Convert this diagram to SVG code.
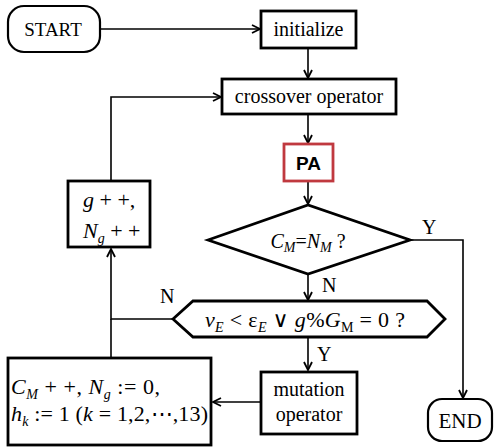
<svg xmlns="http://www.w3.org/2000/svg" width="495" height="448" viewBox="0 0 495 448">
<defs>
<marker id="arr" viewBox="0 0 10 10" refX="9" refY="5" markerWidth="10" markerHeight="10" markerUnits="userSpaceOnUse" orient="auto">
<path d="M1,1 L9,5 L1,9" fill="none" stroke="#000" stroke-width="1.8"/>
</marker>
<style>
.box{fill:#fff;stroke:#000;stroke-width:2.8}
.rnd{fill:#fff;stroke:#000;stroke-width:2.2}
.t{font-family:'Liberation Serif','DejaVu Serif','Times New Roman',serif;font-size:20px;fill:#000}
.m{font-size:22px}
.i{font-style:italic}
.s{font-size:14px}
.c{fill:none;stroke:#000;stroke-width:1.6}
</style>
</defs>
<rect width="495" height="448" fill="#fff"/>
<g id="connectors">
<path class="c" d="M100,29 H260" marker-end="url(#arr)"/>
<path class="c" d="M308,48 V78" marker-end="url(#arr)"/>
<path class="c" d="M308,114 V143" marker-end="url(#arr)"/>
<path class="c" d="M308,181 V204" marker-end="url(#arr)"/>
<path class="c" d="M410,240 H463 V398" marker-end="url(#arr)"/>
<path class="c" d="M308,274 V300" marker-end="url(#arr)"/>
<path class="c" d="M173,319 H111 V249" marker-end="url(#arr)"/>
<path class="c" d="M111,358 V319"/>
<path class="c" d="M111,181 V97 H221" marker-end="url(#arr)"/>
<path class="c" d="M308,337 V370" marker-end="url(#arr)"/>
<path class="c" d="M260,402 H213" marker-end="url(#arr)"/>
<text class="t" x="422" y="234">Y</text>
<text class="t" x="322" y="292">N</text>
<text class="t" x="160" y="303">N</text>
<text class="t" x="317" y="361">Y</text>
</g>
<g id="start">
<rect class="rnd" x="8" y="6" width="92" height="46" rx="16" ry="16"/>
<text class="t" x="53" y="36" text-anchor="middle" style="font-size:19px">START</text>
</g>
<g id="initialize">
<rect class="box" x="261" y="11" width="95" height="37"/>
<text class="t" x="308.5" y="36" text-anchor="middle">initialize</text>
</g>
<g id="crossover">
<rect class="box" x="222" y="79" width="174" height="35"/>
<text class="t" x="309" y="103" text-anchor="middle">crossover operator</text>
</g>
<g id="pa">
<rect x="284" y="144" width="49" height="37" fill="#fff" stroke="#c0393f" stroke-width="2.8"/>
<text x="308.5" y="170" text-anchor="middle" font-family="Liberation Sans, Arial, sans-serif" font-weight="bold" font-size="19">PA</text>
</g>
<g id="check-cm">
<polygon class="box" points="208,240 308,205 410,240 308,274"/>
<text class="t" x="308" y="248" text-anchor="middle"><tspan class="i">C</tspan><tspan class="i s" dy="4">M</tspan><tspan dy="-4">=</tspan><tspan class="i">N</tspan><tspan class="i s" dy="4">M</tspan><tspan dy="-4"> ?</tspan></text>
</g>
<g id="check-v">
<polygon class="box" points="173,319 193,301 427,301 445,319 427,337 193,337"/>
<text class="t m" x="205" y="327" textLength="200" lengthAdjust="spacing"><tspan class="i">v</tspan><tspan class="i s" dy="5">E</tspan><tspan dy="-5"> &lt; ε</tspan><tspan class="i s" dy="5">E</tspan><tspan dy="-5"> ∨ </tspan><tspan class="i">g</tspan><tspan>%</tspan><tspan class="i">G</tspan><tspan class="s" dy="5">M</tspan><tspan dy="-5"> = 0 ?</tspan></text>
</g>
<g id="increment">
<rect class="box" x="68" y="181" width="82" height="66"/>
<text class="t m" x="83" y="207"><tspan class="i">g</tspan> + +,</text>
<text class="t m" x="83" y="238"><tspan class="i">N</tspan><tspan class="i s" dy="5">g</tspan><tspan dy="-5"> + +</tspan></text>
</g>
<g id="reset">
<rect class="box" x="8" y="358" width="203" height="87"/>
<text class="t m" x="11" y="394" textLength="149" lengthAdjust="spacing"><tspan class="i">C</tspan><tspan class="i s" dy="5">M</tspan><tspan dy="-5"> + +, </tspan><tspan class="i">N</tspan><tspan class="i s" dy="5">g</tspan><tspan dy="-5"> := 0,</tspan></text>
<text class="t m" x="11" y="421" textLength="197" lengthAdjust="spacing"><tspan class="i">h</tspan><tspan class="i s" dy="5">k</tspan><tspan dy="-5"> := 1 (</tspan><tspan class="i">k</tspan><tspan> = 1,2,⋯,13)</tspan></text>
</g>
<g id="mutation">
<rect class="box" x="261" y="372" width="96" height="62"/>
<text class="t" x="309" y="396" text-anchor="middle">mutation</text>
<text class="t" x="309" y="421" text-anchor="middle">operator</text>
</g>
<g id="end">
<rect class="rnd" x="428" y="399" width="64" height="42" rx="14" ry="14"/>
<text class="t" x="460" y="428" text-anchor="middle" style="font-size:21px">END</text>
</g>
</svg>
